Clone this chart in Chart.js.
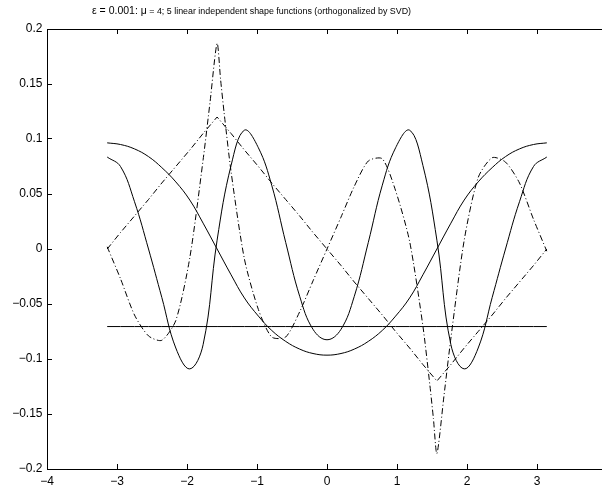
<!DOCTYPE html>
<html>
<head>
<meta charset="utf-8">
<script src="https://cdn.jsdelivr.net/npm/chart.js@4"></script>
<style>
  html, body { margin: 0; padding: 0; background: #fff; overflow: hidden; }
  #shapeChart { display: block; }
</style>
</head>
<body>
<canvas id="shapeChart" width="612" height="489"></canvas>
<script>
const titleMain = 'ε = 0.001: μ';
const titleRest = ' = 4; 5 linear independent shape functions (orthogonalized by SVD)';

const xTicks = [-4, -3, -2, -1, 0, 1, 2, 3, 4];
const yTicks = [-0.2, -0.15, -0.1, -0.05, 0, 0.05, 0.1, 0.15, 0.2];

// sample positions on [-pi, pi]
const xGrid = [-3.14, -2.95, -2.75, -2.55, -2.36, -2.16, -1.96, -1.77, -1.57, -1.37, -1.18, -0.98, -0.79, -0.59, -0.39, -0.20, 0,
  0.20, 0.39, 0.59, 0.79, 0.98, 1.18, 1.37, 1.57, 1.77, 1.96, 2.16, 2.36, 2.55, 2.75, 2.95, 3.14];

const flatShape = [-0.0705, -0.0705, -0.0705, -0.0705, -0.0705, -0.0705, -0.0705, -0.0705, -0.0705, -0.0705, -0.0705,
  -0.0705, -0.0705, -0.0705, -0.0705, -0.0705, -0.0705, -0.0705, -0.0705, -0.0705, -0.0705, -0.0705, -0.0705,
  -0.0705, -0.0705, -0.0705, -0.0705, -0.0705, -0.0705, -0.0705, -0.0705, -0.0705, -0.0705];

const broadShape = [0.0965, 0.095, 0.091, 0.084, 0.074, 0.061, 0.0445, 0.0235, 0.000, -0.0235, -0.0445, -0.061, -0.074,
  -0.084, -0.091, -0.095, -0.0965, -0.095, -0.091, -0.084, -0.074, -0.061, -0.0445, -0.0235, 0.000, 0.0235, 0.0445,
  0.061, 0.074, 0.084, 0.091, 0.095, 0.0965];

const waveShape = [0.0836, 0.075, 0.043, 0.000, -0.044, -0.090, -0.109, -0.087, 0.008, 0.076, 0.108, 0.092, 0.058,
  0.006, -0.043, -0.073, -0.0825, -0.073, -0.043, 0.006, 0.058, 0.092, 0.108, 0.076, 0.008, -0.087, -0.109,
  -0.090, -0.044, 0.000, 0.043, 0.075, 0.0836];

const hatShape = [0, 0.015, 0.030, 0.045, 0.060, 0.075, 0.090, 0.105, 0.120, 0.105, 0.090, 0.075, 0.060, 0.045,
  0.030, 0.015, 0, -0.015, -0.030, -0.045, -0.060, -0.075, -0.090, -0.105, -0.120, -0.105, -0.090, -0.075,
  -0.060, -0.045, -0.030, -0.015, 0];

// the spiky one needs a few extra samples near +-pi/2
const spikeX = [-3.14, -2.95, -2.75, -2.55, -2.36, -2.16, -1.96, -1.77, -1.67, -1.57, -1.52, -1.47, -1.37, -1.18,
  -0.98, -0.79, -0.59, -0.39, -0.20, 0, 0.20, 0.39, 0.59, 0.79, 0.98, 1.18, 1.37, 1.47, 1.52, 1.57, 1.67, 1.77,
  1.96, 2.16, 2.36, 2.55, 2.75, 2.95, 3.14];
const spikeShape = [0.002, -0.027, -0.060, -0.079, -0.083, -0.065, -0.008, 0.081, 0.134, 0.187, 0.154, 0.124, 0.070,
  -0.009, -0.055, -0.080, -0.080, -0.057, -0.029, 0, 0.029, 0.057, 0.080, 0.082, 0.053, 0.007, -0.070, -0.124,
  -0.154, -0.186, -0.134, -0.081, 0.008, 0.065, 0.083, 0.079, 0.060, 0.027, -0.002];

const fontFamily = "'Liberation Sans', Arial, Helvetica, sans-serif";
const tickFont = { family: fontFamily, size: 12 };
const dashDot = [6, 2.5, 1, 2.5];

function toPoints(xs, ys) {
  return xs.map((x, i) => ({ x: x, y: ys[i] }));
}

function fixTicks(values) {
  return scale => { scale.ticks = values.map(v => ({ value: v })); };
}

// fixed box size, and no extra room for labels hanging over the ends
function fixSize(prop, size) {
  return scale => {
    scale[prop] = size;
    scale.paddingLeft = 0;
    scale.paddingRight = 0;
    scale.paddingTop = 0;
    scale.paddingBottom = 0;
  };
}

function tickText(v) {
  return String(+v.toFixed(2)).replace('-', '\u2212');
}

function lineSet(xs, ys, dash, tension) {
  return {
    data: toPoints(xs, ys),
    borderColor: '#000',
    borderWidth: 1,
    borderDash: dash,
    pointRadius: 0,
    fill: false,
    tension: tension
  };
}

const mixedTitle = {
  id: 'mixedTitle',
  afterDraw(chart) {
    const ctx = chart.ctx;
    ctx.save();
    ctx.fillStyle = '#000';
    ctx.textBaseline = 'alphabetic';
    ctx.font = '10.5px ' + fontFamily;
    let x = 92;
    ctx.fillText(titleMain, x, 14);
    x += ctx.measureText(titleMain).width;
    ctx.font = '8.9px ' + fontFamily;
    ctx.fillText(titleRest, x, 14);
    ctx.restore();
  }
};

const gridOpts = { drawOnChartArea: false, tickLength: -5, color: '#000', lineWidth: 1 };
const borderOpts = { color: '#000', width: 1 };

new Chart(document.getElementById('shapeChart'), {
  type: 'line',
  data: {
    datasets: [
      lineSet(xGrid, flatShape, [], 0),
      lineSet(xGrid, broadShape, [], 0.4),
      lineSet(xGrid, waveShape, [], 0.4),
      lineSet(xGrid, hatShape, dashDot, 0),
      lineSet(spikeX, spikeShape, dashDot, 0.25)
    ]
  },
  options: {
    responsive: false,
    animation: false,
    devicePixelRatio: 1,
    layout: { padding: 0 },
    plugins: {
      legend: { display: false },
      title: { display: false },
      tooltip: { enabled: false }
    },
    scales: {
      x: {
        type: 'linear', position: 'bottom', min: -4, max: 4,
        afterBuildTicks: fixTicks(xTicks),
        afterFit: fixSize('height', 20),
        grid: gridOpts, border: borderOpts,
        ticks: { color: '#000', font: tickFont, padding: 10, maxRotation: 0, autoSkip: false, callback: v => tickText(v) }
      },
      y: {
        type: 'linear', position: 'left', min: -0.2, max: 0.2,
        afterBuildTicks: fixTicks(yTicks),
        afterFit: fixSize('width', 47),
        grid: gridOpts, border: borderOpts,
        ticks: { color: '#000', font: tickFont, padding: 9.5, autoSkip: false, callback: v => tickText(v) }
      },
      x2: {
        type: 'linear', position: 'top', min: -4, max: 4,
        afterBuildTicks: fixTicks(xTicks),
        afterFit: fixSize('height', 29),
        grid: gridOpts, border: borderOpts,
        ticks: { display: false }
      },
      y2: {
        type: 'linear', position: 'right', min: -0.2, max: 0.2,
        afterBuildTicks: fixTicks(yTicks),
        afterFit: fixSize('width', 5),
        grid: gridOpts, border: borderOpts,
        ticks: { display: false }
      }
    }
  },
  plugins: [mixedTitle]
});
</script>
</body>
</html>
